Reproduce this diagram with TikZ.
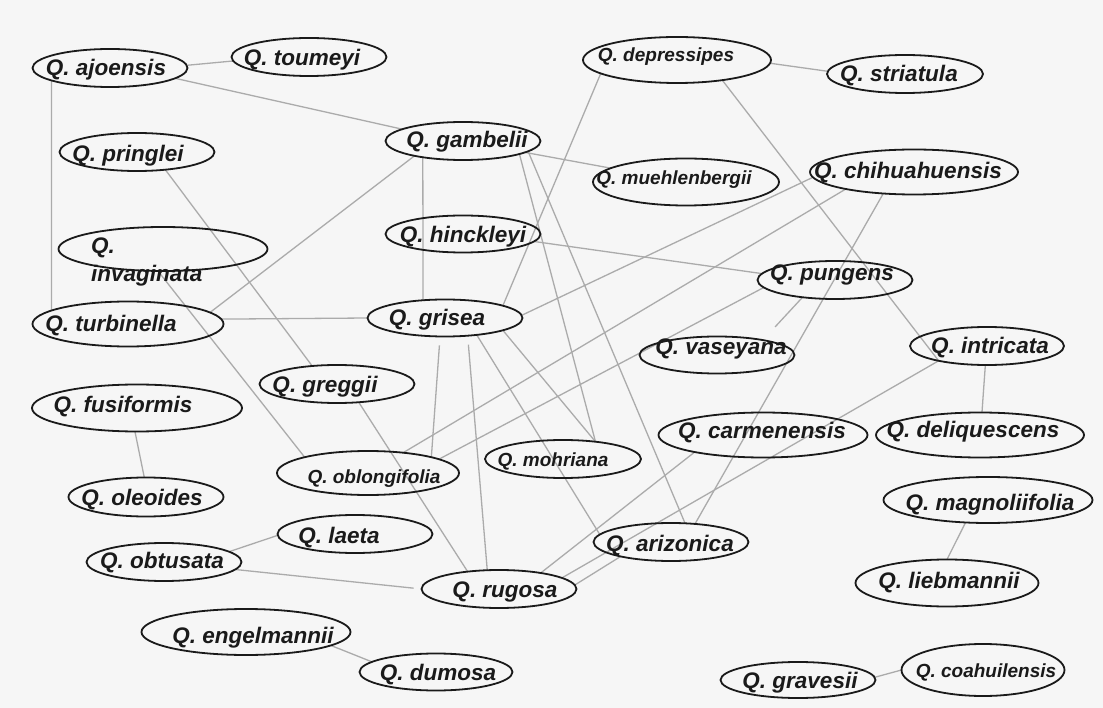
\documentclass[tikz,border=0pt]{standalone}
\usepackage{fontspec}
\setmainfont{Liberation Sans}
\usetikzlibrary{shapes.geometric}
\definecolor{ink}{HTML}{1A1A1A}
\definecolor{wire}{HTML}{ABABAB}
\definecolor{paper}{HTML}{F6F6F6}
\pgfdeclarelayer{under}
\pgfsetlayers{under,main}
% one species: ellipse (name, centre, width, height) and its label (style, baseline point, text)
\newcommand\oak[7]{%
  \node[oval, minimum width=#3pt, minimum height=#4pt] (#1) at (#2) {};
  \node[#5] (#1-t) at (#6) {#7};}
\tikzset{
  oval/.style={draw=ink, line width=1.8pt, ellipse, inner sep=0pt, outer sep=0pt},
  tagbig/.style={font=\fontsize{22.5}{24}\selectfont\bfseries\itshape, text=ink, inner sep=0pt, anchor=base},
  tagsmall/.style={tagbig, font=\fontsize{19}{20}\selectfont\bfseries\itshape},
  wireline/.style={draw=wire, line width=1.3pt},
}
\begin{document}
\begin{tikzpicture}[x=1pt, y=-1pt]
\useasboundingbox (0,0) rectangle (1103,708);
\begin{pgfonlayer}{under}
  \fill[paper] (0,0) rectangle (1103,708);
\end{pgfonlayer}

% species
\oak{aj}{110,68}{155}{38}{tagbig}{106,76}{Q. ajoensis}
\oak{tou}{309,57}{155}{38}{tagbig}{302,66}{Q. toumeyi}
\oak{dep}{677,60}{188}{46}{tagsmall}{666,62}{Q. depressipes}
\oak{str}{905,74}{156}{38}{tagbig}{899,82}{Q. striatula}
\oak{gam}{463,141}{155}{38}{tagbig}{467,148}{Q. gambelii}
\oak{mue}{686,182}{186}{47}{tagsmall}{674,185}{Q. muehlenbergii}
\oak{pri}{137,152}{155}{38}{tagbig}{128,162}{Q. pringlei}
\oak{chi}{914,172}{208}{45}{tagbig}{908,179}{Q. chihuahuensis}
\oak{hin}{463,234}{155}{37}{tagbig}{463,243}{Q. hinckleyi}
\node[oval, minimum width=209pt, minimum height=44pt] (inv) at (163,249) {};
\node[tagbig, anchor=base west] (inv-t) at (91,254) {Q.};
\node[tagbig, anchor=base west] (inv-u) at (91,282) {invaginata};
\oak{pun}{835,280}{155}{38}{tagbig}{832,281}{Q. pungens}
\oak{tur}{128,324}{191}{45}{tagbig}{111,332}{Q. turbinella}
\oak{gri}{445,318}{155}{37}{tagbig}{437,326}{Q. grisea}
\oak{vas}{717,355}{155}{37}{tagbig}{721,355}{Q. vaseyana}
\oak{int}{987,346}{154}{38}{tagbig}{990,354}{Q. intricata}
\oak{gre}{337,384}{155}{38}{tagbig}{325,392}{Q. greggii}
\oak{fus}{137,408}{210}{47}{tagbig}{123,413}{Q. fusiformis}
\oak{car}{763,435}{209}{45}{tagbig}{762,438}{Q. carmenensis}
\oak{del}{980,435}{208}{45}{tagbig}{973,437}{Q. deliquescens}
\oak{obl}{368,473}{182}{44}{tagsmall}{374,483}{Q. oblongifolia}
\oak{moh}{563,459}{156}{38}{tagsmall}{553,466}{Q. mohriana}
\oak{ole}{146,497}{155}{39}{tagbig}{142,505}{Q. oleoides}
\oak{mag}{988,500}{209}{46}{tagbig}{990,510}{Q. magnoliifolia}
\oak{lae}{355,534}{155}{38}{tagbig}{339,543}{Q. laeta}
\oak{obt}{164,562}{155}{38}{tagbig}{162,568}{Q. obtusata}
\oak{ari}{671,542}{155}{38}{tagbig}{670,551}{Q. arizonica}
\oak{rug}{499,589}{155}{38}{tagbig}{505,597}{Q. rugosa}
\oak{lie}{947,583}{183}{47}{tagbig}{949,588}{Q. liebmannii}
\oak{eng}{246,632}{209}{46}{tagbig}{253,643}{Q. engelmannii}
\oak{dum}{436,672}{153}{37}{tagbig}{438,680}{Q. dumosa}
\oak{gra}{798,680}{155}{36}{tagbig}{800,688}{Q. gravesii}
\oak{coa}{983,670}{163}{52}{tagsmall}{986,677}{Q. coahuilensis}

% links
\begin{pgfonlayer}{under}
\draw[wireline] (aj.2) -- (tou.183);
\draw[wireline] (aj.351) -- (gam.169);
\draw[wireline] (aj.192) -- (tur.170);
\draw[wireline] (dep.358) -- (str.178);
\draw[wireline] (dep.190) -- (gri.12);
\draw[wireline] (dep.336) -- (int.197);
\draw[wireline] (gam) -- (mue);
\draw[wireline] (gam.202) -- (gri.141);
\draw[wireline] (gam.197) -- (tur.8);
\draw[wireline] (gam.347) -- (moh.28);
\draw[wireline] (gam.351) -- (ari.53);
\draw[wireline] (pri.328) -- (gre.144);
\draw[wireline] (inv.257) -- (obl.166);
\draw[wireline] (tur.3) -- (gri.180);
\draw[wireline] (hin.354) -- (pun.175);
\draw[wireline] (gri.2) -- (chi.183);
\draw[wireline] (chi.194) -- (obl.30);
\draw[wireline] (pun.186) -- (obl.11);
\draw[wireline, shorten >=18pt] (pun.208) -- (vas.18);
\draw[wireline] (chi.215) -- (ari.37);
\draw[wireline] (int.265) -- (del.85);
\draw[wireline] (int.197) -- (rug.10);
\draw[wireline] (car.194) -- (rug.21);
\draw[wireline] (ari.196) -- (rug.3);
\draw[wireline, shorten <=9pt] (gri.255) -- (obl.14);
\draw[wireline, shorten <=9pt] (gri.322) -- (rug.122);
\draw[wireline] (gri.348) -- (moh.28);
\draw[wireline] (gri.332) -- (ari.174);
\draw[wireline] (gre.320) -- (rug.151);
\draw[wireline] (fus.265) -- (ole.95);
\draw[wireline] (obt.9) -- (lae.181);
\draw[wireline, shorten >=8pt] (obt.354) -- (rug.180);
\draw[wireline] (eng.351) -- (dum.171);
\draw[wireline] (mag.225) -- (lie.90);
\draw[wireline] (gra.2) -- (coa.180);
\end{pgfonlayer}
\end{tikzpicture}
\end{document}
